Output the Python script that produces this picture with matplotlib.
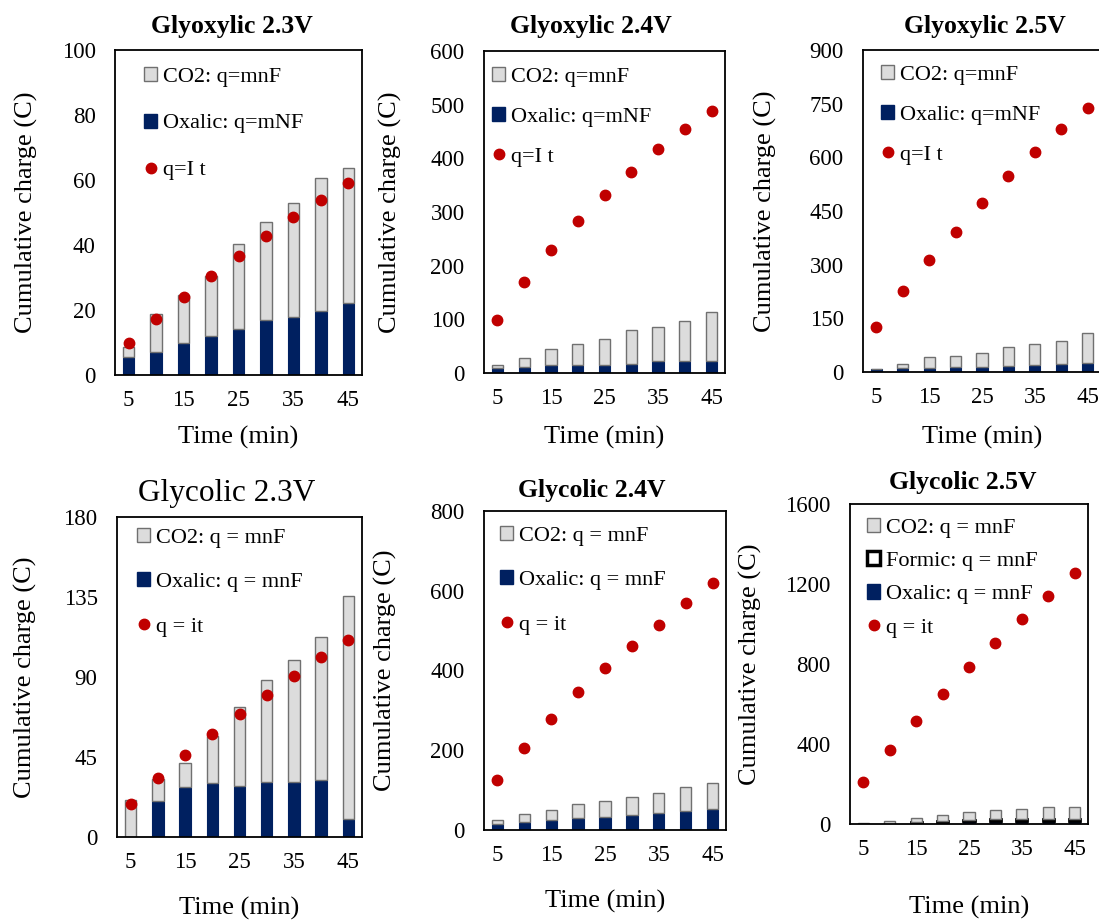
import numpy as np
import matplotlib.pyplot as plt
from matplotlib.patches import Patch
from matplotlib.lines import Line2D

plt.rcParams['font.family'] = ['Liberation Serif', 'DejaVu Serif']

# time points (min) - every other one is labelled on the axis
time_min = [5, 10, 15, 20, 25, 30, 35, 40, 45]

# Glyoxylic 2.3V
gx23_oxalic = [5.4, 7.2, 9.9, 12.0, 14.3, 16.9, 17.9, 19.6, 22.1]
gx23_co2 = [3.3, 11.5, 14.7, 18.4, 25.9, 30.3, 35.0, 41.0, 41.5]
gx23_it = [9.7, 17.1, 24.1, 30.6, 36.7, 42.8, 48.5, 53.8, 59.2]

# Glyoxylic 2.4V
gx24_oxalic = [10, 12, 14, 14, 15.5, 16, 22, 22, 22]
gx24_co2 = [5, 16.5, 30.6, 40.5, 47.5, 64, 63.5, 75, 91]
gx24_it = [98, 170, 229, 283, 331, 375, 417, 454, 489]

# Glyoxylic 2.5V
gx25_oxalic = [8, 10, 11, 13, 13, 16, 20, 23, 26]
gx25_co2 = [1, 13, 31, 33, 41, 54, 57, 65, 82]
gx25_it = [126, 226, 313, 392, 472, 547, 614, 678, 738]

# Glycolic 2.3V
gc23_oxalic = [0, 20, 28, 30.4, 28.5, 31, 30.8, 31.9, 10.3]
gc23_co2 = [21, 12.6, 13.4, 26.6, 44.8, 57.5, 69, 80.8, 125.5]
gc23_it = [18.8, 33.2, 45.9, 57.8, 69.4, 80, 90.8, 101, 110.8]

# Glycolic 2.4V
gc24_oxalic = [15, 21, 25, 31, 33.4, 38.5, 43.5, 47.7, 51.8]
gc24_co2 = [10, 19, 25, 33.4, 39.3, 45.1, 50.1, 59.3, 65.2]
gc24_it = [124.6, 206.5, 278, 345, 407, 462, 515, 568.5, 619.6]

# Glycolic 2.5V
gc25_oxalic = [0, 0, 3, 10, 13, 15, 16, 16, 16]
gc25_formic = [1, 2, 6, 7, 8, 9, 10, 10, 10]
gc25_co2 = [4, 15, 21, 30, 37, 46, 49, 57, 61]
gc25_it = [208, 368, 515, 652, 783, 903, 1023, 1140, 1257]

navy = '#002060'
grey = '#dcdcdc'
red = '#c00000'

W, H = 1099, 922
fig = plt.figure(figsize=(W / 100, H / 100), dpi=100)

panels = [
    dict(title='Glyoxylic 2.3V', bold=True, ox=gx23_oxalic, fo=None, co2=gx23_co2, it=gx23_it,
         ymax=100, ystep=20, box=(115, 50, 362, 375), ylab_x=38, xlab_y=426, title_xy=(232, 27),
         labels=['CO2: q=mnF', 'Oxalic: q=mNF', 'q=I t'], leg=(144, 67), lsp=1.2),
    dict(title='Glyoxylic 2.4V', bold=True, ox=gx24_oxalic, fo=None, co2=gx24_co2, it=gx24_it,
         ymax=600, ystep=100, box=(484, 51, 725, 373), ylab_x=402, xlab_y=426, title_xy=(591, 27),
         labels=['CO2: q=mnF', 'Oxalic: q=mNF', 'q=I t'], leg=(492, 67), lsp=0.9),
    dict(title='Glyoxylic 2.5V', bold=True, ox=gx25_oxalic, fo=None, co2=gx25_co2, it=gx25_it,
         ymax=900, ystep=150, box=(863, 50, 1101, 372), ylab_x=777, xlab_y=426, title_xy=(985, 27),
         labels=['CO2: q=mnF', 'Oxalic: q=mNF', 'q=I t'], leg=(881, 65), lsp=0.9),
    dict(title='Glycolic 2.3V', bold=False, ox=gc23_oxalic, fo=None, co2=gc23_co2, it=gc23_it,
         ymax=180, ystep=45, box=(117, 517, 362, 837), ylab_x=37, xlab_y=897, title_xy=(227, 493),
         labels=['CO2: q = mnF', 'Oxalic: q = mnF', 'q = it'], leg=(137, 528), lsp=1.1),
    dict(title='Glycolic 2.4V', bold=True, ox=gc24_oxalic, fo=None, co2=gc24_co2, it=gc24_it,
         ymax=800, ystep=200, box=(484, 511, 726, 830), ylab_x=397, xlab_y=890, title_xy=(592, 490),
         labels=['CO2: q = mnF', 'Oxalic: q = mnF', 'q = it'], leg=(500, 526), lsp=1.1),
    dict(title='Glycolic 2.5V', bold=True, ox=gc25_oxalic, fo=gc25_formic, co2=gc25_co2, it=gc25_it,
         ymax=1600, ystep=400, box=(850, 504, 1088, 824), ylab_x=762, xlab_y=896, title_xy=(963, 482),
         labels=['CO2: q = mnF', 'Formic: q = mnF', 'Oxalic: q = mnF', 'q = it'], leg=(867, 518), lsp=0.6),
]

x = np.arange(len(time_min))
bw = 0.42

for p in panels:
    l, t, r, b = p['box']
    ax = fig.add_axes([l / W, 1 - b / H, (r - l) / W, (b - t) / H])
    ox = np.array(p['ox'])
    ax.bar(x, ox, bw, color=navy, edgecolor=navy, lw=0.8, zorder=2)
    bottom = ox.copy()
    if p['fo'] is not None:
        fo = np.array(p['fo'])
        ax.bar(x, fo, bw, bottom=bottom, color='white', edgecolor='black', lw=2, zorder=2)
        bottom = bottom + fo
    ax.bar(x, p['co2'], bw, bottom=bottom, color=grey, edgecolor='#707070', lw=1, zorder=2)
    ax.plot(x, p['it'], 'o', color=red, ms=7.5, ls='none', zorder=3)

    ax.set_xlim(-0.5, len(x) - 0.5)
    ax.set_ylim(0, p['ymax'])
    ax.set_yticks(np.arange(0, p['ymax'] + 1, p['ystep']))
    ax.set_xticks(x[::2])
    ax.set_xticklabels([str(v) for v in time_min[::2]])
    ax.tick_params(axis='both', length=0, labelsize=16.5)
    ax.tick_params(axis='x', pad=11)
    ax.tick_params(axis='y', pad=14)
    for s in ax.spines.values():
        s.set_linewidth(1.3)
        s.set_color('black')

    ax.set_ylabel('Cumulative charge (C)', fontsize=19)
    ax.yaxis.set_label_coords((p['ylab_x'] - l) / (r - l), 0.5)
    ax.set_xlabel('Time (min)', fontsize=19)
    ax.xaxis.set_label_coords(0.5, -(p['xlab_y'] - b) / (b - t))

    fig.text(p['title_xy'][0] / W, 1 - p['title_xy'][1] / H, p['title'],
             ha='center', va='center',
             fontsize=18.5 if p['bold'] else 22.5,
             fontweight='bold' if p['bold'] else 'normal')

    handles = [Patch(facecolor=grey, edgecolor='#707070', lw=1)]
    if p['fo'] is not None:
        handles.append(Patch(facecolor='white', edgecolor='black', lw=2.5))
    handles.append(Patch(facecolor=navy, edgecolor=navy))
    handles.append(Line2D([], [], marker='o', color=red, ms=7.5, ls='none'))
    lx, ly = p['leg']
    ax.legend(handles, p['labels'], loc='upper left',
              bbox_to_anchor=((lx - l) / (r - l), 1 - (ly - t) / (b - t)),
              frameon=False, borderpad=0, borderaxespad=0, fontsize=16,
              handlelength=0.6, handleheight=0.6, handletextpad=0.25,
              labelspacing=p['lsp'])

fig.savefig('out.png', dpi=100)
